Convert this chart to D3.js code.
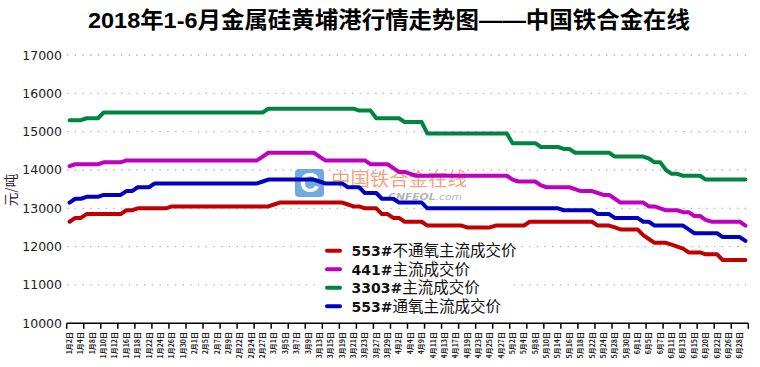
<!DOCTYPE html>
<html><head><meta charset="utf-8">
<script src="https://cdn.jsdelivr.net/npm/d3@7"></script>
<style>body{margin:0;background:#fff;}svg{display:block}</style>
</head><body>
<svg id="c" width="760" height="367"></svg>
<script>
const dates = [
"1/2","1/3","1/4","1/5","1/8","1/9","1/10","1/11","1/12","1/15","1/16","1/17","1/18","1/19","1/22","1/23","1/24","1/25","1/26","1/29","1/30","1/31",
"2/1","2/2","2/5","2/6","2/7","2/8","2/9","2/12","2/22","2/23","2/24","2/26","2/27","2/28",
"3/1","3/2","3/5","3/6","3/7","3/8","3/9","3/12","3/13","3/14","3/15","3/16","3/19","3/20","3/21","3/22","3/23","3/26","3/27","3/28","3/29","3/30",
"4/2","4/3","4/4","4/8","4/9","4/10","4/11","4/12","4/13","4/16","4/17","4/18","4/19","4/20","4/23","4/24","4/25","4/26","4/27","4/28",
"5/2","5/3","5/4","5/7","5/8","5/9","5/10","5/11","5/14","5/15","5/16","5/17","5/18","5/21","5/22","5/23","5/24","5/25","5/28","5/29","5/30","5/31",
"6/1","6/4","6/5","6/6","6/7","6/8","6/11","6/12","6/13","6/14","6/15","6/19","6/20","6/21","6/22","6/25","6/26","6/27","6/28","6/29"];

const si553n = [
12650,12750,12750,12850,12850,12850,12850,12850,12850,12850,
12950,12950,13000,13000,13000,13000,13000,13000,13050,13050,
13050,13050,13050,13050,13050,13050,13050,13050,13050,13050,
13050,13050,13050,13050,13050,13050,13100,13150,13150,13150,
13150,13150,13150,13150,13150,13150,13150,13150,13150,13100,
13050,13050,13000,13000,13000,12850,12850,12750,12750,12650,
12650,12650,12650,12550,12550,12550,12550,12550,12550,12550,
12500,12500,12500,12500,12500,12550,12550,12550,12550,12550,
12550,12650,12650,12650,12650,12650,12650,12650,12650,12650,
12650,12650,12650,12550,12550,12550,12500,12450,12450,12450,
12450,12300,12200,12100,12100,12100,12050,12000,11950,11850,
11850,11850,11800,11800,11800,11650,11650,11650,11650,11650];

const si441 = [
14100,14150,14150,14150,14150,14150,14200,14200,14200,14200,
14250,14250,14250,14250,14250,14250,14250,14250,14250,14250,
14250,14250,14250,14250,14250,14250,14250,14250,14250,14250,
14250,14250,14250,14250,14350,14450,14450,14450,14450,14450,
14450,14450,14450,14450,14350,14250,14250,14250,14250,14250,
14250,14250,14250,14150,14150,14150,14150,14050,13950,13950,
13900,13850,13850,13850,13850,13850,13850,13850,13850,13850,
13850,13850,13850,13850,13850,13850,13850,13850,13750,13700,
13700,13700,13700,13600,13550,13550,13550,13550,13550,13500,
13450,13450,13450,13400,13350,13350,13250,13150,13150,13150,
13150,13150,13050,13050,13000,12950,12950,12950,12900,12900,
12800,12800,12700,12650,12650,12650,12650,12650,12650,12550];

const si3303 = [
15300,15300,15300,15350,15350,15350,15500,15500,15500,15500,
15500,15500,15500,15500,15500,15500,15500,15500,15500,15500,
15500,15500,15500,15500,15500,15500,15500,15500,15500,15500,
15500,15500,15500,15500,15500,15600,15600,15600,15600,15600,
15600,15600,15600,15600,15600,15600,15600,15600,15600,15600,
15600,15550,15550,15550,15350,15350,15350,15350,15350,15250,
15250,15250,15250,14950,14950,14950,14950,14950,14950,14950,
14950,14950,14950,14950,14950,14950,14950,14950,14700,14700,
14700,14700,14700,14600,14600,14600,14600,14550,14550,14450,
14450,14450,14450,14450,14450,14450,14350,14350,14350,14350,
14350,14350,14300,14200,14200,14000,13900,13900,13850,13850,
13850,13850,13750,13750,13750,13750,13750,13750,13750,13750];

const si553t = [
13150,13250,13250,13300,13300,13300,13350,13350,13350,13350,
13450,13450,13550,13550,13550,13650,13650,13650,13650,13650,
13650,13650,13650,13650,13650,13650,13650,13650,13650,13650,
13650,13650,13650,13650,13700,13750,13750,13750,13750,13750,
13750,13750,13750,13750,13700,13650,13650,13650,13650,13550,
13550,13550,13400,13400,13400,13250,13250,13250,13150,13150,
13150,13150,13150,13000,13000,13000,13000,13000,13000,13000,
13000,13000,13000,13000,13000,13000,13000,13000,13000,13000,
13000,13000,13000,13000,13000,13000,13000,12950,12950,12950,
12950,12950,12950,12850,12850,12850,12750,12750,12750,12750,
12750,12650,12650,12550,12550,12550,12550,12550,12550,12450,
12350,12350,12350,12350,12350,12250,12250,12250,12250,12150];

const yTicks = [10000,11000,12000,13000,14000,15000,16000,17000];
const seriesNames = ["553#不通氧主流成交价","441#主流成交价","3303#主流成交价","553#通氧主流成交价"];
const seriesColors = ["#c00000","#c000c0","#00853f","#0000c0"];
const seriesData = [si553n, si441, si3303, si553t];

const svg = d3.select("#c");
const x = d3.scaleBand().domain(dates).range([66.7, 748.3]).paddingInner(0).paddingOuter(0);
const y = d3.scaleLinear().domain([10000,17000]).range([323.3, 55]);
const cx = d => x(d) + x.bandwidth()/2;

// title
svg.append("text").attr("x", 389).attr("y", 28).attr("text-anchor","middle")
  .attr("font-family","'Liberation Sans','Noto Sans CJK SC',sans-serif").attr("font-weight","bold")
  .attr("font-size",22.5).attr("textLength",602).attr("lengthAdjust","spacingAndGlyphs")
  .attr("fill","#000").text("2018年1-6月金属硅黄埔港行情走势图——中国铁合金在线");

// gridlines
svg.append("g").selectAll("line").data(yTicks.slice(1)).join("line")
  .attr("x1", 67).attr("x2", 748).attr("y1", d=>y(d)).attr("y2", d=>y(d))
  .attr("stroke","#b8b8b8").attr("stroke-width",1.3).attr("stroke-dasharray","1.5,6.2");

// y labels
svg.append("g").selectAll("text").data(yTicks).join("text")
  .attr("x", 62).attr("y", d=>y(d)).attr("dy","0.36em").attr("text-anchor","end")
  .attr("font-family","'DejaVu Sans',Verdana,sans-serif").attr("font-size",12.5).attr("fill","#222")
  .text(d=>d);

// y title
svg.append("text").attr("transform","translate(15.5,190) rotate(-90)").attr("text-anchor","middle")
  .attr("font-family","'Noto Sans CJK SC',sans-serif").attr("font-size",13.5).attr("fill","#222")
  .text("元/吨");

// watermark
const wm = svg.append("g").attr("opacity",0.75);
wm.append("rect").attr("x",295).attr("y",169).attr("width",29).attr("height",28).attr("rx",4).attr("fill","#3f8fd6");
wm.append("text").attr("x",309.5).attr("y",192).attr("text-anchor","middle").attr("font-family","'Liberation Sans',sans-serif")
  .attr("font-weight","bold").attr("font-size",27).attr("fill","#fff").text("C");
wm.append("text").attr("x",331).attr("y",185.5).attr("font-family","'Noto Sans CJK SC',sans-serif").attr("font-size",18.5)
  .attr("fill","#f4844f").attr("textLength",136).attr("lengthAdjust","spacingAndGlyphs").text("中国铁合金在线");
wm.append("text").attr("x",388).attr("y",199.5).attr("font-family","'DejaVu Sans',sans-serif").attr("font-size",9.5)
  .attr("font-style","italic").attr("fill","#9a9a9a").attr("textLength",74).attr("lengthAdjust","spacingAndGlyphs")
  .html('<tspan font-weight="bold">CNFEOL</tspan>.com');

// lines
const line = d3.line().x((v,i)=>cx(dates[i])).y(v=>y(v));
svg.append("g").selectAll("path").data(seriesData).join("path")
  .attr("d", d=>line(d)).attr("fill","none").attr("stroke",(d,i)=>seriesColors[i])
  .attr("stroke-width",4).attr("stroke-linejoin","round").attr("stroke-linecap","round");

// x axis
svg.append("line").attr("x1",66.7).attr("x2",748.3).attr("y1",y(10000)).attr("y2",y(10000))
  .attr("stroke","#000").attr("stroke-width",1.6);
const tickIdx = dates.filter((d,i)=>i%3===0);
svg.append("g").selectAll("line").data(tickIdx).join("line")
  .attr("x1",d=>x(d)).attr("x2",d=>x(d)).attr("y1",y(10000)).attr("y2",y(10000)+5.5)
  .attr("stroke","#000").attr("stroke-width",1.5);
svg.append("line").attr("x1",x.range()[1]).attr("x2",x.range()[1]).attr("y1",y(10000)).attr("y2",y(10000)+5.5)
  .attr("stroke","#000").attr("stroke-width",1.5);
svg.append("g").selectAll("text").data(dates.filter((d,i)=>i%2===0)).join("text")
  .attr("transform",d=>`translate(${cx(d)},332) rotate(-90)`).attr("text-anchor","end").attr("dy","0.35em")
  .attr("font-family","'Noto Sans CJK SC',sans-serif").attr("font-weight","bold").attr("font-size",7).attr("fill","#222")
  .text(d=>{const [m,dd]=d.split("/");return `${m}月${dd}日`;});

// legend
const lg = svg.append("g");
lg.append("rect").attr("x",320).attr("y",240).attr("width",188).attr("height",76).attr("fill","#fff");
const rows = lg.selectAll("g").data(seriesNames).join("g").attr("transform",(d,i)=>`translate(0,${250.7+i*18.5})`);
rows.append("line").attr("x1",327).attr("x2",340).attr("stroke",(d,i)=>seriesColors[i]).attr("stroke-width",4).attr("stroke-linecap","round");
rows.append("text").attr("x",351.5).attr("y",5.5).attr("fill","#111").each(function(d){
  const m = d.match(/^(\d+#)(.*)$/);
  const t = d3.select(this);
  t.append("tspan").attr("font-family","'DejaVu Sans',Verdana,sans-serif").attr("font-weight","bold").attr("font-size",14).text(m[1]);
  t.append("tspan").attr("font-family","'Noto Sans CJK SC',sans-serif").attr("font-size",15.5).text(m[2]);
});
</script>
</body></html>
